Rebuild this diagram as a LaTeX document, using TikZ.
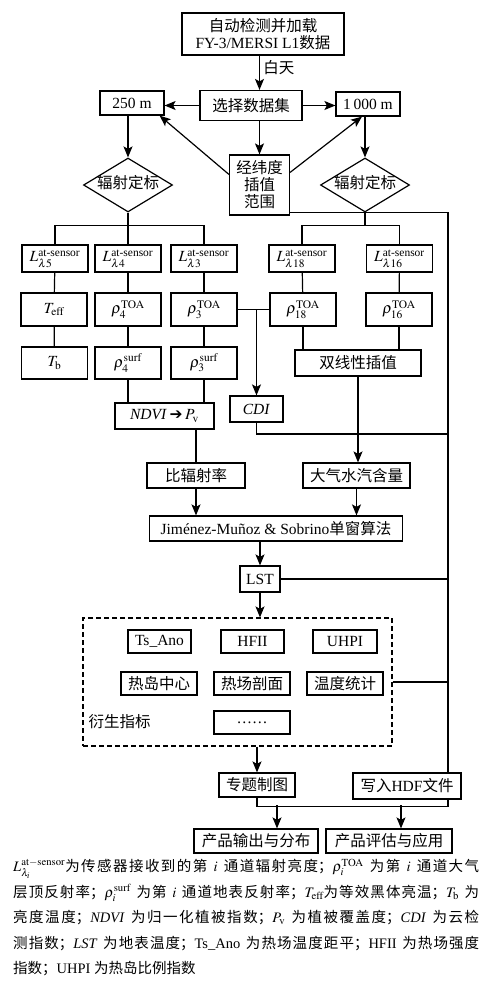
\documentclass[tikz,border=0pt]{standalone}
\usepackage{amsmath}
\usepackage{mathptmx}
\usepackage{fontspec}
\setmainfont{Liberation Serif}
\newfontfamily\cjk{Noto Sans CJK SC}
\newfontfamily\djv{DejaVu Sans}
\XeTeXlinebreaklocale "zh"
\XeTeXlinebreakskip=0pt plus 1pt
\usetikzlibrary{shapes.geometric,arrows.meta,calc}
\newcommand{\zh}[1]{{\cjk #1}}
\newcommand{\boxfont}{\fontsize{15.5}{17}\selectfont}

\tikzset{
  box/.style={draw, line width=1.2pt, inner sep=1pt, align=center, font=\boxfont},
  cell/.style={box, minimum width=66pt},
  cal/.style={draw, line width=1.2pt, diamond, aspect=2, inner sep=0pt, text height=9pt, text depth=2pt, minimum width=89pt, minimum height=54pt, font=\boxfont},
  line/.style={line width=1.2pt},
  arr/.style={line width=1.2pt, -{Stealth[length=11pt,width=9pt,inset=2.5pt]}},
}

\begin{document}
\begin{tikzpicture}[x=1pt,y=-1pt]
\useasboundingbox (0,0) rectangle (497,1001);

\node[box, minimum width=162pt, minimum height=42pt] (load) at (263,34) {\zh{自动检测并加载}\\FY-3/MERSI L1\zh{数据}};
\node[box, minimum width=102pt, minimum height=30pt] (sel) at (251,105.5) {\zh{选择数据集}};
\node[box, minimum width=64pt, minimum height=24pt] (m250) at (132,103) {250 m};
\node[box, minimum width=64pt, minimum height=24pt] (m1000) at (368,104) {1\,000 m};
\node[box, minimum width=60pt, minimum height=60pt] (geo) at (259.5,185) {\zh{经纬度}\\\zh{插值}\\\zh{范围}};
\node[cal] (calL) at (128,185) {\zh{辐射定标}};
\node[cal] (calR) at (365,185) {\zh{辐射定标}};

\node[cell, minimum height=27pt] (l5) at (55,258.5) {$L^{\text{at-sensor}}_{\lambda 5}$};
\node[cell, minimum height=27pt] (l4) at (128,258.5) {$L^{\text{at-sensor}}_{\lambda 4}$};
\node[cell, minimum height=27pt] (l3) at (204,258.5) {$L^{\text{at-sensor}}_{\lambda 3}$};
\node[cell, minimum height=27pt] (l18) at (302,258.5) {$L^{\text{at-sensor}}_{\lambda 18}$};
\node[cell, minimum height=27pt] (l16) at (399.5,258.5) {$L^{\text{at-sensor}}_{\lambda 16}$};

\node[cell, minimum height=33pt] (teff) at (54,309.5) {$T_{\mathrm{eff}}$};
\node[cell, minimum height=33pt] (r4) at (128,309.5) {$\rho^{\mathrm{TOA}}_{4}$};
\node[cell, minimum height=33pt] (r3) at (204,309.5) {$\rho^{\mathrm{TOA}}_{3}$};
\node[cell, minimum height=33pt] (r18) at (303,309.5) {$\rho^{\mathrm{TOA}}_{18}$};
\node[cell, minimum height=33pt] (r16) at (399,309.5) {$\rho^{\mathrm{TOA}}_{16}$};

\node[cell, minimum height=32pt] (tb) at (54.5,363) {$T_{\mathrm{b}}$};
\node[cell, minimum height=32pt] (s4) at (128,363) {$\rho^{\mathrm{surf}}_{4}$};
\node[cell, minimum height=32pt] (s3) at (204,363) {$\rho^{\mathrm{surf}}_{3}$};
\node[box, minimum width=126pt, minimum height=26pt] (bilin) at (358,363) {\zh{双线性插值}};

\node[box, minimum width=99pt, minimum height=26pt] (ndvi) at (164.5,416) {\textit{NDVI}\,{\djv ➔}\,$P_{\mathrm{v}}$};
\node[box, minimum width=53pt, minimum height=26pt] (cdi) at (256.5,409) {\textit{CDI}};

\node[box, minimum width=98pt, minimum height=25pt] (emis) at (196,475.5) {\zh{比辐射率}};
\node[box, minimum width=107pt, minimum height=25pt] (wv) at (356.5,475.5) {\zh{大气水汽含量}};
\node[box, minimum width=253pt, minimum height=25pt] (jm) at (276,528.5) {Jiménez-Muñoz \& Sobrino\zh{单窗算法}};
\node[box, minimum width=40pt, minimum height=26pt] (lst) at (260,579) {LST};

\node[draw, dashed, dash pattern=on 5pt off 3pt, line width=1.2pt, minimum width=309pt, minimum height=128pt] (deriv) at (237.5,682) {};
\node[box, minimum width=63pt, minimum height=23pt] (tsano) at (159.5,641.5) {Ts\_Ano};
\node[box, minimum width=63pt, minimum height=23pt] (hfii) at (252.5,641.5) {HFII};
\node[box, minimum width=64pt, minimum height=23pt] (uhpi) at (345,641.5) {UHPI};
\node[box, minimum width=76pt, minimum height=23pt] (hot) at (159,683.5) {\zh{热岛中心}};
\node[box, minimum width=76pt, minimum height=23pt] (prof) at (252,683.5) {\zh{热场剖面}};
\node[box, minimum width=76pt, minimum height=23pt] (stat) at (345,683.5) {\zh{温度统计}};
\node[box, minimum width=76pt, minimum height=23pt] (dots) at (252,722.5) {……};
\node[anchor=west, font=\boxfont] (derivlbl) at (85,722) {\zh{衍生指标}};

\node[box, minimum width=76pt, minimum height=24pt] (maps) at (257,785) {\zh{专题制图}};
\node[box, minimum width=108pt, minimum height=26pt] (hdf) at (407,786) {\zh{写入}HDF\zh{文件}};
\node[box, minimum width=124pt, minimum height=24pt] (out1) at (256,841) {\zh{产品输出与分布}};
\node[box, minimum width=126pt, minimum height=24pt] (out2) at (389,841) {\zh{产品评估与应用}};

\coordinate (trunk) at (448,212);

\draw[arr] (load.south -| geo) -- node[right, pos=0.35, font=\boxfont] {\zh{白天}} (sel.north -| geo);
\draw[arr] (sel.west) -- (sel.west -| m250.east);
\draw[arr] (sel.east) -- (sel.east -| m1000.west);
\draw[arr] (sel.south -| geo) -- (geo.north);
\draw[arr] ($(geo.north west)+(0,20)$) -- ($(m250.south east)+(-5,0)$);
\draw[arr] ($(geo.north east)+(0,18)$) -- ($(m1000.south)+(-6,0)$);
\draw[arr] (m250.south -| calL) -- (calL.north);
\draw[arr] (m1000.south -| calR) -- (calR.north);

\coordinate (busL) at ($(calL.south)!0.4!(l4.north)$);
\coordinate (busR) at ($(calR.south)!0.4!(calR.south |- l18.north)$);
\draw[line] (calL.south) -- (l4.north) (l5.north) |- (busL) -| (l3.north);
\draw[line] (calR.south) -- (busR) (l18.north) |- (busR) -| (l16.north);
\draw[line] (geo.east |- calR.south) -| (trunk |- hdf.north);

\draw[line] (l5) -- (teff) -- (tb);
\draw[line] (l4) -- (r4) -- (s4);
\draw[line] (l3) -- (r3) -- (s3);
\draw[line] (l18) -- (r18);
\draw[line] (l16) -- (r16);
\draw[line] (r18.south) -- (r18.south |- bilin.north);
\draw[line] (r16.south) -- (r16.south |- bilin.north);
\draw[line] (s4.south) -- (s4.south |- ndvi.north);
\draw[line] (s3.south) -- (s3.south |- ndvi.north);
\draw[line] (r3.east) -- (r18.west);
\draw[arr] (r3.east -| cdi.north) -- (cdi.north);
\draw[line] (cdi.south) |- ($(trunk)+(0,222)$);

\draw[arr] (bilin.south) -- (bilin.south |- wv.north);
\draw[line] (ndvi.south -| emis.north) -- (emis.north);
\draw[arr] (emis.south) -- (emis.south |- jm.north);
\draw[arr] (wv.south) -- (wv.south |- jm.north);
\draw[arr] (jm.south -| lst.north) -- (lst.north);
\draw[line] (lst.east) -- (lst.east -| trunk);
\draw[arr] (lst.south) -- (lst.south |- deriv.north);
\draw[line] (deriv.east) -- (deriv.east -| trunk);
\draw[arr] (deriv.south -| maps.north) -- (maps.north);

\draw[line] (maps.south) |- ($(trunk |- hdf.south)+(0,7)$) -- (trunk |- hdf.south);
\draw[arr] ($(out1.north)+(21,-23)$) -- ($(out1.north)+(21,0)$);
\draw[arr] ($(out2.north)+(12,-23)$) -- ($(out2.north)+(12,0)$);

\node[anchor=north west, inner sep=0pt, text width=466pt, align=justify, font=\fontsize{14.5}{25.5}\selectfont] (note) at (13,859) {%
$L^{\mathrm{at}-\mathrm{sensor}}_{\lambda_i}$\zh{为传感器接收到的第}~$i$~\zh{通道辐射亮度；}$\rho_i^{\mathrm{TOA}}$~\zh{为第}~$i$~\zh{通道大气}\linebreak
\zh{层顶反射率；}$\rho_i^{\mathrm{surf}}$~\zh{为第}~$i$~\zh{通道地表反射率；}$T_{\mathrm{eff}}$\zh{为等效黑体亮温；}$T_{\mathrm{b}}$~\zh{为}\linebreak
\zh{亮度温度；}\textit{NDVI}~\zh{为归一化植被指数；}$P_{\mathrm{v}}$~\zh{为植被覆盖度；}\textit{CDI}~\zh{为云检}\linebreak
\zh{测指数；}\textit{LST}~\zh{为地表温度；}Ts\_Ano~\zh{为热场温度距平；}HFII~\zh{为热场强度}\linebreak
\zh{指数；}UHPI~\zh{为热岛比例指数}};
\end{tikzpicture}
\end{document}
